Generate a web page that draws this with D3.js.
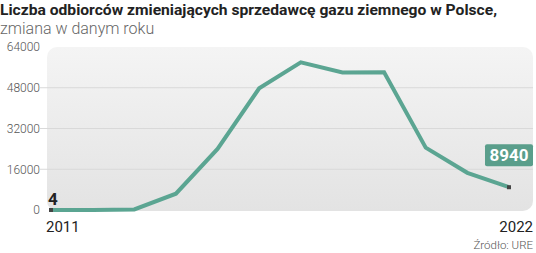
<!DOCTYPE html>
<html>
<head>
<meta charset="utf-8">
<script src="https://cdn.jsdelivr.net/npm/d3@7"></script>
<style>
body { margin: 0; background: #fff; }
svg { display: block; font-family: Roboto, "Open Sans", sans-serif; }
</style>
</head>
<body>
<svg id="chart"></svg>
<script>
var years = [2011, 2012, 2013, 2014, 2015, 2016, 2017, 2018, 2019, 2020, 2021, 2022];
var values = [4, 30, 200, 6400, 24000, 47800, 58000, 54000, 54100, 24500, 14600, 8940];
var yTicks = [0, 16000, 32000, 48000, 64000];

var W = 536, H = 253;
var margin = {top: 47, right: 27, bottom: 43, left: 50},
    width = W - margin.left - margin.right,
    height = H - margin.top - margin.bottom;

var svg = d3.select("#chart")
    .attr("width", W)
    .attr("height", H);

var defs = svg.append("defs");
var grad = defs.append("linearGradient")
    .attr("id", "bg")
    .attr("x1", 0).attr("y1", 0).attr("x2", 0).attr("y2", 1);
grad.append("stop").attr("offset", "0%").attr("stop-color", "#f4f4f4");
grad.append("stop").attr("offset", "100%").attr("stop-color", "#e3e3e3");

// title
svg.append("text")
    .attr("x", 0)
    .attr("y", 15)
    .style("font-size", "15.5px")
    .style("font-weight", "bold")
    .attr("fill", "#222")
    .attr("textLength", 497)
    .attr("lengthAdjust", "spacingAndGlyphs")
    .text("Liczba odbiorców zmieniających sprzedawcę gazu ziemnego w Polsce,");
svg.append("text")
    .attr("x", 0)
    .attr("y", 34)
    .style("font-size", "16px")
    .style("font-weight", 300)
    .attr("fill", "#666")
    .text("zmiana w danym roku");

var g = svg.append("g")
    .attr("transform", "translate(" + margin.left + "," + margin.top + ")");

var x = d3.scaleLinear()
    .domain([2011, 2022])
    .range([1, 459]);

var y = d3.scaleLinear()
    .domain([0, 64000])
    .range([height + 0, 0]);

// background panel
g.append("rect")
    .attr("x", -3)
    .attr("y", 0)
    .attr("width", 486)
    .attr("height", height + 1)
    .attr("rx", 10)
    .attr("fill", "url(#bg)");

// gridlines
g.selectAll(".grid")
    .data(yTicks.slice(1, 4))
    .enter().append("line")
    .attr("x1", -10)
    .attr("x2", 483)
    .attr("y1", function(d) { return y(d); })
    .attr("y2", function(d) { return y(d); })
    .attr("stroke", "#d9d9d9")
    .attr("stroke-width", 1);

// y axis labels
var yAxis = g.append("g")
    .call(d3.axisLeft(y).tickValues(yTicks).tickSize(0).tickPadding(10).tickFormat(d3.format("d")));
yAxis.select(".domain").remove();
yAxis.selectAll("text")
    .style("font-family", "Roboto, sans-serif")
    .style("font-size", "12px")
    .style("font-weight", 300)
    .attr("fill", "#555");

// line
var line = d3.line()
    .x(function(d, i) { return x(years[i]); })
    .y(function(d) { return y(d); });

g.append("path")
    .datum(values)
    .attr("fill", "none")
    .attr("stroke", "#5ba592")
    .attr("stroke-width", 4)
    .attr("stroke-linejoin", "miter")
    .attr("d", line);

// end markers
var ends = [0, values.length - 1];
g.selectAll(".marker")
    .data(ends)
    .enter().append("rect")
    .attr("x", function(i) { return x(years[i]) - 2; })
    .attr("y", function(i) { return y(values[i]) - 2; })
    .attr("width", 4)
    .attr("height", 4)
    .attr("fill", "#444");

// first value label
g.append("text")
    .attr("x", x(years[0]) - 3)
    .attr("y", y(values[0]) - 5)
    .style("font-family", "Roboto, sans-serif")
    .style("font-size", "17px")
    .style("font-weight", "bold")
    .attr("fill", "#222")
    .text(values[0]);

// last value label box
var lx = x(years[11]), ly = y(values[11]);
g.append("rect")
    .attr("x", lx - 24)
    .attr("y", ly - 43)
    .attr("width", 48)
    .attr("height", 22)
    .attr("rx", 2)
    .attr("fill", "#5a9e8b");
g.append("text")
    .attr("x", lx)
    .attr("y", ly - 26)
    .attr("text-anchor", "middle")
    .style("font-family", "Roboto, sans-serif")
    .style("font-size", "17px")
    .style("font-weight", "bold")
    .attr("fill", "#fff")
    .text(d3.format("d")(values[11]));

// year labels
g.append("text")
    .attr("x", -4)
    .attr("y", height + 22)
    .style("font-size", "15px")
    .attr("fill", "#222")
    .text(years[0]);
g.append("text")
    .attr("x", 483)
    .attr("y", height + 22)
    .attr("text-anchor", "end")
    .style("font-size", "15px")
    .attr("fill", "#222")
    .text(years[11]);

// source
svg.append("text")
    .attr("x", 533)
    .attr("y", 249)
    .attr("text-anchor", "end")
    .style("font-size", "11.5px")
    .style("font-weight", 300)
    .attr("fill", "#555")
    .text("Źródło: URE");
</script>
</body>
</html>
